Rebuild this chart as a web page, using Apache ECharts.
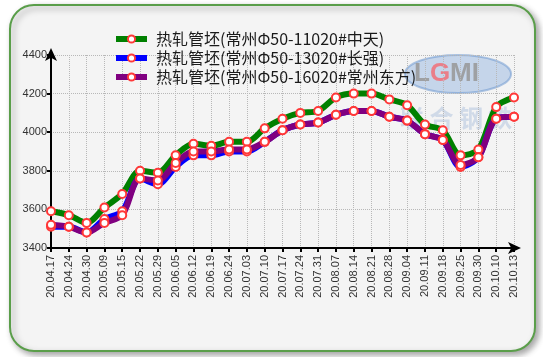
<!DOCTYPE html>
<html><head><meta charset="utf-8">
<script src="https://cdn.jsdelivr.net/npm/echarts@6/dist/echarts.min.js"></script>
<style>html,body{margin:0;padding:0;background:#fff}#c{width:543px;height:357px}</style>
</head><body><div id="c"></div>
<script>
const categories = ['20.04.17','20.04.24','20.04.30','20.05.09','20.05.15','20.05.22','20.05.29','20.06.05','20.06.12','20.06.19','20.06.24','20.07.03','20.07.10','20.07.17','20.07.24','20.07.31','20.08.07','20.08.14','20.08.21','20.08.28','20.09.04','20.09.11','20.09.18','20.09.25','20.09.30','20.10.10','20.10.13'];
const seriesNames = ['热轧管坯(常州Φ50-11020#中天)','热轧管坯(常州Φ50-13020#长强)','热轧管坯(常州Φ50-16020#常州东方)'];
const zhongtian = [3590,3570,3530,3610,3680,3800,3790,3880,3940,3930,3950,3950,4020,4070,4100,4110,4180,4200,4200,4170,4140,4040,4010,3880,3910,4130,4180];
const changqiang = [3510,3510,3480,3550,3590,3760,3730,3820,3880,3880,3900,3900,3950,4010,4040,4050,4090,4110,4110,4080,4060,3990,3960,3820,3870,4070,4080];
const dongfang = [3520,3510,3480,3530,3570,3760,3750,3840,3900,3900,3910,3910,3950,4010,4040,4050,4090,4110,4110,4080,4060,3990,3960,3830,3870,4070,4080];
const yTicks = [3400,3600,3800,4000,4200,4400];

const chart = echarts.init(document.getElementById('c'), null, {renderer:'canvas'});
const colors = ['#008000','#0000ff','#800080'];
const datas = [zhongtian, changqiang, dongfang];
const series = datas.map((d,i)=>({
  name: seriesNames[i], type:'line', data:d, smooth:0.3,
  symbol:'circle', symbolSize:8, showAllSymbol:true,
  lineStyle:{color:colors[i], width:6},
  itemStyle:{color:'#ffffff', borderColor:'#ff3838', borderWidth:2},
  emphasis:{disabled:true}
}));
chart.setOption({
  animation:false,
  backgroundColor:'#ffffff',
  graphic:[
    {type:'rect', z:-10, shape:{x:10,y:5,width:525,height:346,r:24},
     style:{fill:'#f4f4f4', stroke:'#5a9e4a', lineWidth:2, shadowBlur:6, shadowOffsetX:3, shadowOffsetY:3, shadowColor:'rgba(0,0,0,0.35)'}},
    {type:'ellipse', z:-5, shape:{cx:458,cy:74,rx:53,ry:19},
     style:{fill:'rgba(140,175,222,0.45)', stroke:'rgba(100,145,205,0.5)', lineWidth:2}},
    {type:'text', z:-4, left:414, top:61, style:{
      text:'{a|L}{b|G}{a|MI}',
      rich:{a:{fill:'rgba(150,150,150,0.85)', font:'bold 26px "Liberation Sans", Arial'},
            b:{fill:'rgba(240,110,120,0.85)', font:'bold 26px "Liberation Sans", Arial'}}}},
    {type:'text', z:-4, left:400, top:106, style:{text:'联 合 钢 铁', fill:'rgba(140,170,210,0.35)', font:'bold 24px "Noto Sans CJK SC"'}}
  ],
  legend:{
    orient:'vertical', left:108, top:26, itemWidth:31, itemHeight:9, itemGap:3,
    lineStyle:{width:6},
    textStyle:{fontSize:16, color:'#1a1a1a', fontFamily:'"Noto Sans CJK SC", "Liberation Sans", sans-serif', padding:[0,0,0,4]},
    data: seriesNames
  },
  grid:{left:51, right:29, top:55, bottom:109, containLabel:false},
  xAxis:{
    type:'category', data:categories, boundaryGap:false,
    axisLine:{show:true, lineStyle:{color:'#000', width:2}, symbol:['none','arrow'], symbolSize:[9,13], symbolOffset:[0,7]},
    axisTick:{show:true, alignWithLabel:true, length:4, lineStyle:{color:'#000', width:2}},
    axisLabel:{rotate:90, interval:0, fontSize:11, color:'#333', margin:7, fontFamily:'"Liberation Sans", Arial, sans-serif'},
    splitLine:{show:true, lineStyle:{color:'#b8b8b8', type:'dotted', width:1}}
  },
  yAxis:{
    type:'value', min:yTicks[0], max:yTicks[yTicks.length-1], interval:200,
    axisLine:{show:true, lineStyle:{color:'#000', width:2}, symbol:['none','arrow'], symbolSize:[9,13], symbolOffset:[0,7]},
    axisTick:{show:true, length:4, lineStyle:{color:'#000', width:2}},
    axisLabel:{fontSize:11, color:'#333', margin:4, fontFamily:'"Liberation Sans", Arial, sans-serif', formatter:v=>String(v)},
    splitLine:{show:true, lineStyle:{color:'#b8b8b8', type:'dotted', width:1}}
  },
  series: series
});
</script></body></html>
